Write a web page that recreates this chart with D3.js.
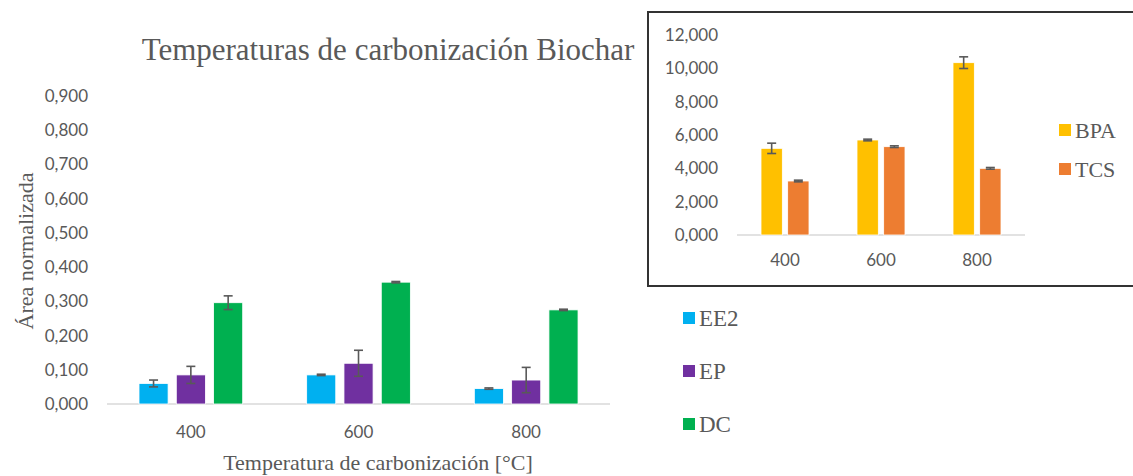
<!DOCTYPE html>
<html>
<head>
<meta charset="utf-8">
<script src="https://cdn.jsdelivr.net/npm/d3@7"></script>
<style>
  body { margin: 0; background: #fff; }
  svg { display: block; }
</style>
</head>
<body>
<div id="my_dataviz"></div>
<script>
// data
var categories = ["400", "600", "800"];

// main chart series
var mainSeries = ["EE2", "EP", "DC"];
var ee2Values = [0.060, 0.085, 0.045];
var ee2Errors = [0.010, 0.002, 0.002];
var epValues = [0.085, 0.119, 0.070];
var epErrors = [0.025, 0.038, 0.037];
var dcValues = [0.296, 0.356, 0.275];
var dcErrors = [0.020, 0.002, 0.002];
var mainTicks = [0, 0.1, 0.2, 0.3, 0.4, 0.5, 0.6, 0.7, 0.8, 0.9];

// inset chart series
var insetSeries = ["BPA", "TCS"];
var bpaValues = [5200, 5700, 10340];
var bpaErrors = [310, 50, 350];
var tcsValues = [3240, 5300, 4000];
var tcsErrors = [50, 50, 50];
var insetTicks = [0, 2000, 4000, 6000, 8000, 10000, 12000];

var colors = {EE2: "#00B0F0", EP: "#7030A0", DC: "#00B050", BPA: "#FFC000", TCS: "#ED7D31"};

var W = 1133, H = 476;
var serif = "'Liberation Serif', 'Times New Roman', serif";
var sans = "Lato, 'Open Sans', sans-serif";
var textGrey = "#595959";

var svg = d3.select("#my_dataviz")
  .append("svg")
    .attr("width", W)
    .attr("height", H);

// format like 0,300 / 12,000
function fmt3(v) { return d3.format(".3f")(v).replace(".", ","); }
function fmtK(v) { return d3.format(".3f")(v / 1000).replace(".", ","); }

function buildRows(series, vals, errs) {
  return categories.map(function(c, i) {
    return {cat: c, bars: series.map(function(s, j) {
      return {key: s, value: vals[j][i], err: errs[j][i]};
    })};
  });
}

function drawBars(g, rows, x0, x1, y, capW) {
  var groups = g.selectAll(".grp")
    .data(rows)
    .enter().append("g")
      .attr("transform", function(d) { return "translate(" + x0(d.cat) + ",0)"; });

  groups.selectAll("rect")
    .data(function(d) { return d.bars; })
    .enter().append("rect")
      .attr("x", function(d) { return x1(d.key); })
      .attr("y", function(d) { return y(d.value); })
      .attr("width", x1.bandwidth())
      .attr("height", function(d) { return y(0) - y(d.value); })
      .attr("fill", function(d) { return colors[d.key]; })
      .attr("stroke", "#fff")
      .attr("stroke-width", 0.8);

  // error bars
  var eb = groups.selectAll(".eb")
    .data(function(d) { return d.bars; })
    .enter().append("g")
      .attr("stroke", "#595959")
      .attr("stroke-width", 1.6);
  eb.append("line")
    .attr("x1", function(d) { return x1(d.key) + x1.bandwidth() / 2; })
    .attr("x2", function(d) { return x1(d.key) + x1.bandwidth() / 2; })
    .attr("y1", function(d) { return y(d.value + d.err); })
    .attr("y2", function(d) { return y(d.value - d.err); });
  [1, -1].forEach(function(sg) {
    eb.append("line")
      .attr("x1", function(d) { return x1(d.key) + x1.bandwidth() / 2 - capW / 2; })
      .attr("x2", function(d) { return x1(d.key) + x1.bandwidth() / 2 + capW / 2; })
      .attr("y1", function(d) { return y(d.value + sg * d.err); })
      .attr("y2", function(d) { return y(d.value + sg * d.err); });
  });
}

// ---------- main chart ----------
var x0 = d3.scaleBand().domain(categories).range([107, 610]);
var x1 = d3.scaleBand().domain(mainSeries).range([32, 135.7]).paddingInner(0.22);
var y = d3.scaleLinear().domain([0, 0.9]).range([404, 96]);

// y tick labels
svg.append("g")
  .selectAll("text")
  .data(mainTicks)
  .enter().append("text")
    .attr("x", 88)
    .attr("y", function(d) { return y(d); })
    .attr("dy", "0.35em")
    .attr("text-anchor", "end")
    .style("font-family", sans)
    .style("font-size", "17px")
    .style("fill", textGrey)
    .text(fmt3);

// baseline
svg.append("line")
  .attr("x1", 107).attr("x2", 610)
  .attr("y1", y(0)).attr("y2", y(0))
  .attr("stroke", "#d9d9d9")
  .attr("stroke-width", 1.5);

// x tick labels
svg.append("g")
  .selectAll("text")
  .data(categories)
  .enter().append("text")
    .attr("x", function(d) { return x0(d) + x0.bandwidth() / 2; })
    .attr("y", 432)
    .attr("dy", "0.35em")
    .attr("text-anchor", "middle")
    .style("font-family", sans)
    .style("font-size", "17px")
    .style("fill", textGrey)
    .text(function(d) { return d; });

var mainRows = buildRows(mainSeries, [ee2Values, epValues, dcValues], [ee2Errors, epErrors, dcErrors]);
drawBars(svg.append("g"), mainRows, x0, x1, y, 9);

// title
svg.append("text")
  .attr("x", 388)
  .attr("y", 60)
  .attr("text-anchor", "middle")
  .style("font-family", serif)
  .style("font-size", "31px")
  .style("fill", textGrey)
  .text("Temperaturas de carbonización Biochar");

// axis titles
svg.append("text")
  .attr("x", 378)
  .attr("y", 470)
  .attr("text-anchor", "middle")
  .style("font-family", serif)
  .style("font-size", "22px")
  .style("fill", textGrey)
  .text("Temperatura de carbonización [°C]");

svg.append("text")
  .attr("transform", "translate(33,251) rotate(-90)")
  .attr("text-anchor", "middle")
  .style("font-family", serif)
  .style("font-size", "22px")
  .style("fill", textGrey)
  .text("Área normalizada");

// main legend
var legMain = svg.append("g")
  .selectAll("g")
  .data(mainSeries)
  .enter().append("g")
    .attr("transform", function(d, i) { return "translate(683," + (318 + i * 53) + ")"; });
legMain.append("rect")
  .attr("x", 0).attr("y", -6)
  .attr("width", 12).attr("height", 12)
  .attr("fill", function(d) { return colors[d]; });
legMain.append("text")
  .attr("x", 16)
  .attr("dy", "0.35em")
  .style("font-family", serif)
  .style("font-size", "23px")
  .style("fill", textGrey)
  .text(function(d) { return d; });

// ---------- inset chart ----------
svg.append("rect")
  .attr("x", 648).attr("y", 12)
  .attr("width", 500).attr("height", 274)
  .attr("fill", "#fff")
  .attr("stroke", "#333")
  .attr("stroke-width", 2);

var ix0 = d3.scaleBand().domain(categories).range([737, 1025]);
var ix1 = d3.scaleBand().domain(insetSeries).range([24, 72]).paddingInner(0.2);
var iy = d3.scaleLinear().domain([0, 12000]).range([235, 35]);

svg.append("g")
  .selectAll("text")
  .data(insetTicks)
  .enter().append("text")
    .attr("x", 718)
    .attr("y", function(d) { return iy(d); })
    .attr("dy", "0.35em")
    .attr("text-anchor", "end")
    .style("font-family", sans)
    .style("font-size", "17px")
    .style("fill", textGrey)
    .text(fmtK);

svg.append("line")
  .attr("x1", 737).attr("x2", 1025)
  .attr("y1", iy(0)).attr("y2", iy(0))
  .attr("stroke", "#d9d9d9")
  .attr("stroke-width", 1.5);

svg.append("g")
  .selectAll("text")
  .data(categories)
  .enter().append("text")
    .attr("x", function(d) { return ix0(d) + ix0.bandwidth() / 2; })
    .attr("y", 260)
    .attr("dy", "0.35em")
    .attr("text-anchor", "middle")
    .style("font-family", sans)
    .style("font-size", "17px")
    .style("fill", textGrey)
    .text(function(d) { return d; });

var insetRows = buildRows(insetSeries, [bpaValues, tcsValues], [bpaErrors, tcsErrors]);
drawBars(svg.append("g"), insetRows, ix0, ix1, iy, 9);

var legInset = svg.append("g")
  .selectAll("g")
  .data(insetSeries)
  .enter().append("g")
    .attr("transform", function(d, i) { return "translate(1059," + (130 + i * 39) + ")"; });
legInset.append("rect")
  .attr("x", 0).attr("y", -6)
  .attr("width", 12).attr("height", 12)
  .attr("fill", function(d) { return colors[d]; });
legInset.append("text")
  .attr("x", 16)
  .attr("dy", "0.35em")
  .style("font-family", serif)
  .style("font-size", "22px")
  .style("fill", textGrey)
  .text(function(d) { return d; });
</script>
</body>
</html>
